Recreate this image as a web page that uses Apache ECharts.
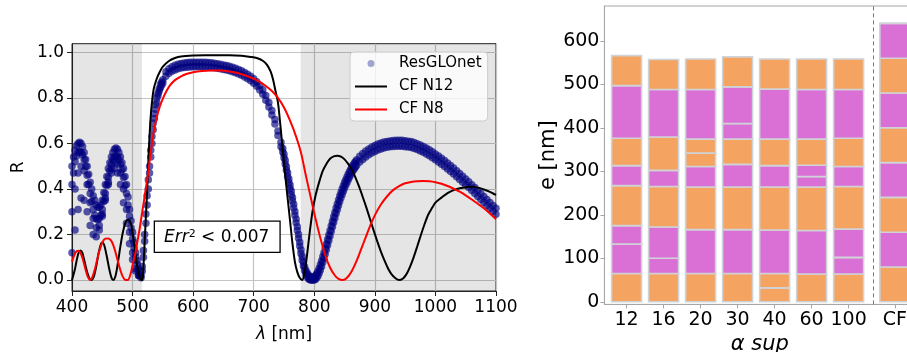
<!DOCTYPE html>
<html>
<head>
<meta charset="utf-8">
<script src="https://cdn.jsdelivr.net/npm/echarts@6/dist/echarts.min.js"></script>
<style>
  html, body { margin: 0; padding: 0; background: #fff; overflow: hidden; }
  #chart { width: 907px; height: 352px; }
</style>
</head>
<body>
<div id="chart"></div>
<script>
// ---------- Reflectance spectra (left panel) ----------
// Wavelength samples (nm) for the ResGLOnet predictions
const lambdaNm = [
  400,402.5,405,407.5,410,412.5,415,417.5,420,422.5,425,427.5,430,432.5,435,437.5,440,442.5,445,447.5,450,452.5,455,457.5,460,462.5,465,467.5,470,472.5,475,477.5,480,482.5,485,487.5,490,492.5,495,497.5,500,502.5,505,507.5,510,
  512,514,516,518,520,522,524,526,528,530,532,534,536,538,540,542,544,546,548,550,
  555,560,565,570,575,580,585,590,595,600,605,610,615,620,625,630,635,640,645,650,655,660,665,670,675,680,685,690,695,700,705,710,715,720,725,730,735,740,745,
  748,750,752,754,756,758,760,762,764,766,768,770,772,774,776,778,780,782,784,786,788,790,792,794,796,798,800,802,804,806,808,810,812,814,816,818,820,822,824,826,828,830,832,834,836,838,840,842,844,846,848,850,852,854,856,858,860,862,864,866,868,870,
  875,880,885,890,895,900,905,910,915,920,925,930,935,940,945,950,955,960,965,970,975,980,985,990,995,1000,1005,1010,1015,1020,1025,1030,1035,1040,1045,1050,1055,1060,1065,1070,1075,1080,1085,1090,1095,1100
];

// ResGLOnet reflectance, upper edge of the prediction band
const resGLOnetA = [
  0.50,0.54,0.57,0.59,0.60,0.605,0.60,0.585,0.56,0.53,0.50,0.465,0.43,0.40,0.37,0.35,0.33,0.32,0.32,0.33,0.35,0.385,0.42,0.455,0.49,0.515,0.54,0.56,0.575,0.58,0.575,0.56,0.54,0.515,0.49,0.455,0.42,0.365,0.31,0.26,0.21,0.165,0.12,0.085,0.05,
  0.02,0.02,0.06,0.13,0.20,0.29,0.37,0.44,0.50,0.57,0.63,0.69,0.73,0.77,0.80,0.82,0.84,0.86,0.87,0.88,
  0.915,0.928,0.937,0.943,0.948,0.951,0.953,0.955,0.956,0.957,0.957,0.957,0.957,0.956,0.955,0.954,0.952,0.95,0.948,0.945,0.942,0.939,0.935,0.93,0.925,0.919,0.912,0.904,0.895,0.884,0.871,0.855,0.836,0.81,0.78,0.745,0.705,0.655,0.605,
  0.578,0.553,0.526,0.498,0.471,0.444,0.418,0.391,0.363,0.333,0.301,0.268,0.234,0.2,0.166,0.133,0.103,0.078,0.058,0.043,0.032,0.023,0.017,0.013,0.011,0.011,0.014,0.02,0.028,0.039,0.052,0.067,0.084,0.102,0.12,0.139,0.158,0.178,0.198,0.218,0.238,0.258,0.278,0.297,0.316,0.334,0.352,0.369,0.385,0.4,0.414,0.428,0.441,0.453,0.465,0.476,0.486,0.496,0.505,0.513,0.521,0.528,
  0.544,0.556,0.567,0.576,0.584,0.591,0.597,0.602,0.606,0.609,0.611,0.613,0.614,0.614,0.614,0.612,0.61,0.608,0.604,0.599,0.593,0.587,0.58,0.572,0.563,0.554,0.545,0.535,0.525,0.514,0.503,0.492,0.48,0.468,0.456,0.444,0.432,0.419,0.406,0.393,0.38,0.367,0.354,0.341,0.328,0.315
];

// ResGLOnet reflectance, lower edge of the prediction band
const resGLOnetB = [
  0.42,0.47,0.52,0.545,0.56,0.565,0.56,0.55,0.53,0.50,0.46,0.42,0.38,0.345,0.31,0.285,0.27,0.265,0.27,0.285,0.31,0.345,0.38,0.415,0.45,0.48,0.51,0.53,0.54,0.545,0.54,0.53,0.51,0.485,0.45,0.415,0.38,0.33,0.28,0.23,0.18,0.14,0.10,0.07,0.04,
  0.02,0.01,0.04,0.10,0.17,0.25,0.33,0.40,0.47,0.54,0.60,0.66,0.71,0.75,0.78,0.81,0.83,0.845,0.855,0.865,
  0.895,0.908,0.917,0.923,0.928,0.931,0.933,0.935,0.936,0.937,0.937,0.937,0.937,0.936,0.935,0.934,0.932,0.93,0.928,0.925,0.922,0.919,0.915,0.91,0.905,0.899,0.892,0.884,0.875,0.864,0.851,0.835,0.816,0.79,0.76,0.725,0.685,0.635,0.585,
  0.562,0.537,0.51,0.482,0.455,0.428,0.402,0.375,0.347,0.317,0.285,0.252,0.218,0.184,0.15,0.117,0.087,0.062,0.042,0.027,0.016,0.007,0.002,0,0,0,0,0.004,0.01,0.018,0.03,0.044,0.06,0.078,0.096,0.115,0.134,0.154,0.174,0.194,0.214,0.234,0.254,0.273,0.292,0.31,0.328,0.345,0.361,0.376,0.39,0.404,0.417,0.429,0.441,0.452,0.462,0.472,0.481,0.489,0.497,0.504,
  0.518,0.53,0.541,0.55,0.558,0.565,0.571,0.576,0.58,0.583,0.585,0.587,0.588,0.588,0.588,0.586,0.584,0.582,0.578,0.573,0.567,0.561,0.554,0.546,0.537,0.528,0.519,0.509,0.499,0.488,0.477,0.466,0.454,0.442,0.43,0.418,0.406,0.393,0.38,0.367,0.354,0.341,0.328,0.315,0.302,0.289
];

// Scattered ResGLOnet predictions in the blue band
const outlierLambda = [400,405,410,415,420,425,430,435,440,445,450,455,460,465,470,475,480,485,490,495,500,505,510];
const resGLOnetC = [0.12,0.22,0.31,0.36,0.35,0.30,0.24,0.20,0.19,0.22,0.28,0.35,0.42,0.47,0.49,0.47,0.42,0.34,0.25,0.16,0.09,0.04,0.02];
const resGLOnetD = [0.30,0.40,0.47,0.50,0.48,0.42,0.34,0.27,0.23,0.24,0.29,0.36,0.43,0.49,0.52,0.51,0.47,0.40,0.31,0.21,0.12,0.05,0.02];

// Conventional filter, 12 layers
const n12Lambda = [400,405,408,411,414,417,420,424,428,432,436,440,444,448,450,453,457,461,465,468,472,476,480,484,488,492,495,498,502,506,510,513,516,518,520,522,524,526,528,530,532,535,540,545,550,560,570,580,600,620,640,660,680,695,705,715,722,728,732,736,740,744,748,752,756,760,764,768,772,776,780,784,788,792,797,802,808,814,820,826,832,838,844,850,856,862,868,874,880,886,892,898,904,910,916,922,928,934,940,946,952,958,964,970,976,982,988,994,1000,1010,1020,1030,1040,1050,1060,1070,1080,1090,1100];
const n12R = [0.0,0.05,0.09,0.12,0.13,0.12,0.09,0.045,0.012,0.0,0.015,0.06,0.12,0.16,0.165,0.155,0.11,0.055,0.012,0.0,0.02,0.08,0.15,0.21,0.25,0.265,0.262,0.24,0.17,0.09,0.03,0.005,0.0,0.06,0.17,0.28,0.39,0.52,0.63,0.72,0.78,0.84,0.885,0.915,0.937,0.962,0.975,0.982,0.986,0.987,0.987,0.987,0.985,0.98,0.975,0.963,0.945,0.915,0.88,0.83,0.78,0.68,0.57,0.46,0.36,0.26,0.16,0.08,0.035,0.01,0.0,0.035,0.11,0.2,0.3,0.37,0.43,0.48,0.51,0.533,0.543,0.546,0.542,0.53,0.51,0.485,0.45,0.41,0.365,0.318,0.268,0.218,0.17,0.125,0.085,0.05,0.024,0.008,0.0,0.006,0.025,0.058,0.1,0.148,0.198,0.245,0.287,0.315,0.34,0.362,0.382,0.395,0.403,0.408,0.41,0.406,0.398,0.387,0.374];

// Conventional filter, 8 layers
const n8Lambda = [400,403,406,410,414,418,422,426,430,434,438,442,446,450,455,460,464,468,472,476,480,484,488,492,496,500,504,508,512,516,520,524,528,532,536,540,545,550,556,562,570,580,590,600,615,630,645,660,675,690,700,710,720,730,740,750,760,770,778,786,794,802,810,818,826,834,840,847,854,862,870,878,886,894,902,910,920,930,940,950,960,970,980,990,1000,1010,1020,1030,1040,1050,1060,1070,1080,1090,1100];
const n8R = [0.08,0.105,0.122,0.129,0.12,0.09,0.05,0.015,0.0,0.015,0.05,0.095,0.135,0.165,0.182,0.183,0.175,0.155,0.12,0.08,0.042,0.014,0.001,0.0,0.02,0.065,0.11,0.17,0.23,0.3,0.37,0.44,0.52,0.6,0.665,0.715,0.762,0.797,0.83,0.856,0.878,0.895,0.906,0.913,0.918,0.92,0.92,0.916,0.908,0.895,0.884,0.87,0.852,0.83,0.8,0.758,0.7,0.63,0.56,0.46,0.365,0.27,0.185,0.11,0.055,0.02,0.005,0.0,0.01,0.04,0.085,0.14,0.195,0.25,0.295,0.332,0.367,0.395,0.413,0.425,0.431,0.434,0.435,0.434,0.43,0.423,0.413,0.401,0.388,0.372,0.354,0.335,0.315,0.292,0.267];

// Wavelength bands outside the design window (shaded)
const shadedBands = [[400, 515.5], [777.5, 1100]];
const reflectanceTicks = [0, 0.2, 0.4, 0.6, 0.8, 1.0];
const errorText = ' < 0.007';

// ---------- Layer thicknesses (right panel) ----------
const alphaSupLabels = ['12', '16', '20', '30', '40', '60', '100', 'CF'];
// Thickness (nm) of each layer, bottom to top; materials alternate, starting with the orange one
const layerThickness = [
  [65, 68, 0, 42, 92, 46, 63, 121, 69],
  [65, 35, 0, 72, 93, 37, 77, 109, 69],
  [65, 101, 98, 47, 31, 0, 32, 114, 70],
  [65, 101, 98, 52, 58, 36, 0, 84, 69],
  [32, 0, 33, 100, 99, 49, 61, 115, 69],
  [64, 100, 100, 24, 0, 26, 60, 114, 70],
  [64, 38, 0, 65, 98, 46, 65, 112, 70],
  [80, 80, 80, 80, 80, 80, 80, 80, 0]
];
const thicknessTicks = [0, 100, 200, 300, 400, 500, 600];

// ---------- Chart ----------
const FONT = 'DejaVu Sans';
const materialColors = ['#F4A460', '#DA70D6'];
const layerEdge = '#cfd2d6';
// bar slots: the optimised stacks side by side, the reference filter after a gap
const barPos = alphaSupLabels.map((_, i) => (i < alphaSupLabels.length - 1 ? i : i + 0.25));
const barWidthUnits = 0.81;
const separatorPos = 6.67;

const zip = (xs, ys) => ys.map((y, i) => [xs[i], y]);

const scatterStyle = {
  type: 'scatter',
  name: 'ResGLOnet',
  xAxisIndex: 0,
  yAxisIndex: 0,
  symbol: 'circle',
  symbolSize: 7.5,
  itemStyle: { color: '#000080', opacity: 0.65, borderWidth: 0, borderColor: 'rgba(0,0,0,0)' },
  emphasis: { disabled: true },
  z: 2
};

const series = [
  Object.assign({}, scatterStyle, {
    data: zip(lambdaNm, resGLOnetA),
    markArea: {
      silent: true,
      itemStyle: { color: 'rgba(0,0,0,0.1)' },
      data: shadedBands.map(b => [{ xAxis: b[0] }, { xAxis: b[1] }])
    }
  }),
  Object.assign({}, scatterStyle, { data: zip(lambdaNm, resGLOnetB) }),
  Object.assign({}, scatterStyle, { data: zip(outlierLambda, resGLOnetC) }),
  Object.assign({}, scatterStyle, { data: zip(outlierLambda, resGLOnetD) }),
  {
    type: 'line', name: 'CF N12', xAxisIndex: 0, yAxisIndex: 0,
    data: zip(n12Lambda, n12R), symbol: 'none', smooth: 0.3,
    lineStyle: { color: '#000', width: 2 }, itemStyle: { color: '#000' }, z: 3
  },
  {
    type: 'line', name: 'CF N8', xAxisIndex: 0, yAxisIndex: 0,
    data: zip(n8Lambda, n8R), symbol: 'none', smooth: 0.3,
    lineStyle: { color: '#ff0000', width: 2 }, itemStyle: { color: '#ff0000' }, z: 4
  }
];

// Stacked layers: each layer is drawn from the running total of the layers below it
const nLayers = layerThickness[0].length;
const runningBase = layerThickness.map(() => 0);
for (let k = 0; k < nLayers; k++) {
  const data = barPos.map((p, j) => {
    const bottom = runningBase[j];
    const top = bottom + layerThickness[j][k];
    runningBase[j] = top;
    return [p, bottom, top];
  });
  const fill = materialColors[k % 2];
  const s = {
    type: 'custom',
    xAxisIndex: 1,
    yAxisIndex: 1,
    data: data,
    encode: { x: 0, y: [1, 2] },
    clip: true,
    silent: true,
    z: 2,
    renderItem: (params, api) => {
      const x = api.value(0);
      const p0 = api.coord([x, api.value(1)]);
      const p1 = api.coord([x, api.value(2)]);
      const w = api.size([barWidthUnits, 0])[0];
      return {
        type: 'rect',
        shape: { x: p0[0] - w / 2, y: p1[1], width: w, height: p0[1] - p1[1] },
        style: { fill: fill, stroke: layerEdge, lineWidth: 1.6 }
      };
    }
  };
  if (k === 0) {
    s.markLine = {
      silent: true,
      symbol: 'none',
      label: { show: false },
      lineStyle: { color: '#777', type: [4, 3], width: 1 },
      data: [{ xAxis: separatorPos }]
    };
  }
  series.push(s);
}

const labelStyle = (size) => ({ fontFamily: FONT, fontSize: size, color: '#000' });
const lineIcon = 'path://M0,0H32V2H0Z';

const option = {
  animation: false,
  backgroundColor: '#fff',
  textStyle: { fontFamily: FONT },
  grid: [
    { left: 72, top: 43.7, width: 424, height: 247.3, show: true, borderColor: '#222', borderWidth: 1, backgroundColor: 'transparent', outerBoundsMode: 'none', containLabel: false },
    { left: 604.4, top: 6, width: 310.8, height: 298.4, show: true, borderColor: '#a6a6a6', borderWidth: 1, backgroundColor: 'transparent', outerBoundsMode: 'none', containLabel: false }
  ],
  legend: {
    data: [
      { name: 'ResGLOnet', icon: 'circle', itemStyle: { color: '#000080', opacity: 0.35 } },
      { name: 'CF N12', icon: lineIcon },
      { name: 'CF N8', icon: lineIcon }
    ],
    orient: 'vertical',
    left: 350,
    top: 52,
    itemWidth: 32,
    itemHeight: 7,
    itemGap: 8,
    padding: [4, 6, 4, 5],
    backgroundColor: 'rgba(255,255,255,0.8)',
    borderColor: '#cccccc',
    borderWidth: 1,
    borderRadius: 4,
    selectedMode: false,
    itemStyle: { borderWidth: 0 },
    textStyle: { fontFamily: FONT, fontSize: 15, color: '#000', padding: [0, 0, 0, 7] }
  },
  xAxis: [
    {
      gridIndex: 0, type: 'value', min: 400, max: 1100, interval: 100,
      name: '{i|λ} [nm]', nameLocation: 'middle', nameGap: 35,
      nameTextStyle: Object.assign(labelStyle(17), { rich: { i: Object.assign(labelStyle(17), { fontStyle: 'italic' }) } }),
      axisLine: { show: true, onZero: false, lineStyle: { color: '#222', width: 1 } },
      axisTick: { show: true, length: 5, lineStyle: { color: '#222' } },
      axisLabel: Object.assign(labelStyle(17), { margin: 8, formatter: v => String(v) }),
      splitLine: { show: true, lineStyle: { color: '#c4c4c4', width: 1.2 } }
    },
    {
      gridIndex: 1, type: 'value', min: -0.6, max: 7.8,
      name: 'α sup', nameLocation: 'middle', nameGap: 24,
      nameTextStyle: Object.assign(labelStyle(21), { fontStyle: 'italic' }),
      axisLine: { show: true, onZero: false, lineStyle: { color: '#a6a6a6', width: 1 } },
      axisTick: { show: true, length: 4, customValues: barPos, lineStyle: { color: '#a6a6a6' } },
      axisLabel: Object.assign(labelStyle(19), {
        margin: 6,
        customValues: barPos,
        formatter: (v) => {
          const i = barPos.findIndex(p => Math.abs(p - v) < 1e-6);
          return i >= 0 ? alphaSupLabels[i] : '';
        }
      }),
      splitLine: { show: false }
    }
  ],
  yAxis: [
    {
      gridIndex: 0, type: 'value', min: -0.048, max: 1.038, splitNumber: 5,
      name: 'R', nameLocation: 'middle', nameGap: 45, nameRotate: 90,
      nameTextStyle: labelStyle(17),
      axisLine: { show: true, onZero: false, lineStyle: { color: '#222', width: 1 } },
      axisTick: { show: true, length: 5, customValues: reflectanceTicks, lineStyle: { color: '#222' } },
      axisLabel: Object.assign(labelStyle(17), { margin: 8, customValues: reflectanceTicks, formatter: v => v.toFixed(1) }),
      splitLine: { show: true, lineStyle: { color: '#c4c4c4', width: 1.2 } }
    },
    {
      gridIndex: 1, type: 'value', min: -6, max: 680, splitNumber: 7,
      name: 'e [nm]', nameLocation: 'middle', nameGap: 40, nameRotate: 90,
      nameTextStyle: labelStyle(21),
      axisLine: { show: true, onZero: false, lineStyle: { color: '#a6a6a6', width: 1 } },
      axisTick: { show: true, length: 4, customValues: thicknessTicks, lineStyle: { color: '#a6a6a6' } },
      axisLabel: Object.assign(labelStyle(19), { margin: 5, customValues: thicknessTicks }),
      splitLine: { show: false }
    }
  ],
  series: series
};

const chart = echarts.init(document.getElementById('chart'), null, { renderer: 'canvas' });
chart.setOption(option);

// Error annotation box, anchored in data coordinates of the spectrum panel
const anchor = chart.convertToPixel({ xAxisIndex: 0, yAxisIndex: 0 }, [537, 0.256]);
chart.setOption({
  graphic: [{
    type: 'text',
    x: anchor[0],
    y: anchor[1],
    z: 100,
    style: {
      text: '{i|Err}{s|2}' + errorText,
      fontFamily: FONT,
      fontSize: 17,
      fill: '#000',
      backgroundColor: '#fff',
      borderColor: '#000',
      borderWidth: 1.3,
      padding: [7, 10, 6, 9],
      rich: {
        i: { fontFamily: FONT, fontSize: 17, fontStyle: 'italic', fill: '#000' },
        s: { fontFamily: FONT, fontSize: 11, verticalAlign: 'top', fill: '#000' }
      }
    }
  }]
});
</script>
</body>
</html>
